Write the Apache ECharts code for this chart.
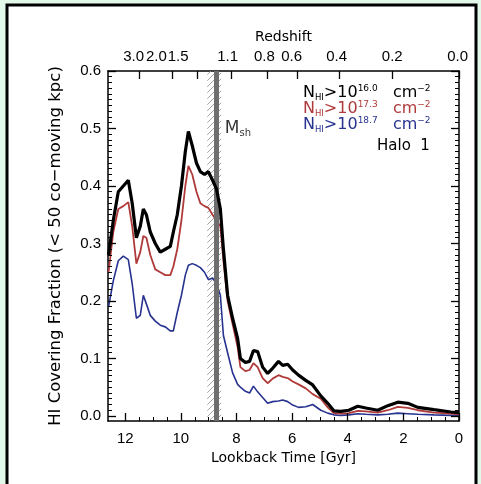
<!DOCTYPE html>
<html><head><meta charset="utf-8">
<script src="https://cdn.jsdelivr.net/npm/echarts@6/dist/echarts.min.js"></script>
<style>html,body{margin:0;padding:0;background:#e2f8e8;}#c{width:481px;height:484px;}</style>
</head><body><div id="c"></div>
<script>
// ---- data ----
const times = [12.6,12.43,12.25,12.07,11.89,11.75,11.60,11.46,11.35,11.24,11.10,10.92,10.74,10.56,10.38,10.27,10.13,9.98,9.84,9.73,9.59,9.44,9.30,9.15,9.01,8.86,8.72,8.58,8.47,8.32,8.14,7.96,7.86,7.68,7.53,7.39,7.24,7.06,6.88,6.70,6.49,6.34,6.16,5.98,5.77,5.51,5.26,4.97,4.72,4.50,4.25,3.96,3.64,3.35,2.92,2.56,2.20,1.84,1.48,0.90,0.29,0.00];
const blackVals = [0.28,0.34,0.39,0.40,0.41,0.37,0.31,0.33,0.36,0.35,0.32,0.30,0.285,0.29,0.295,0.32,0.35,0.40,0.46,0.495,0.47,0.44,0.425,0.42,0.425,0.41,0.395,0.36,0.29,0.21,0.17,0.135,0.10,0.093,0.095,0.114,0.112,0.085,0.074,0.083,0.095,0.088,0.09,0.08,0.071,0.062,0.054,0.035,0.022,0.009,0.008,0.01,0.017,0.014,0.01,0.018,0.024,0.022,0.015,0.011,0.007,0.006];
const redVals = [0.25,0.32,0.36,0.365,0.372,0.33,0.265,0.285,0.313,0.31,0.28,0.255,0.25,0.245,0.245,0.26,0.29,0.34,0.40,0.435,0.42,0.39,0.37,0.365,0.362,0.35,0.34,0.33,0.27,0.20,0.16,0.12,0.085,0.078,0.08,0.092,0.085,0.066,0.057,0.065,0.071,0.068,0.066,0.06,0.055,0.048,0.038,0.03,0.015,0.005,0.004,0.005,0.009,0.008,0.006,0.01,0.016,0.014,0.01,0.006,0.004,0.003];
const blueVals = [0.19,0.235,0.27,0.278,0.272,0.23,0.17,0.175,0.21,0.195,0.175,0.165,0.158,0.155,0.148,0.148,0.18,0.21,0.245,0.262,0.265,0.262,0.258,0.25,0.237,0.24,0.23,0.21,0.14,0.11,0.075,0.055,0.05,0.043,0.04,0.052,0.042,0.032,0.022,0.025,0.026,0.028,0.025,0.019,0.015,0.016,0.02,0.01,0.005,0.002,0.001,0.002,0.004,0.003,0.002,0.003,0.005,0.004,0.003,0.002,0.001,0.001];
const xTickValues = [0,2,4,6,8,10,12];
const yTickValues = [0,0.1,0.2,0.3,0.4,0.5,0.6];
const redshiftLabels = ['3.0','2.0','1.5','1.1','0.8','0.6','0.4','0.2','0.0'];
const redshiftTickTimes = [11.5,10.3,9.4,8.2,6.9,5.8,4.3,2.4,0];
const redshiftLabelTimes = [11.7,10.88,10.1,8.32,7.0,6.02,4.4,2.4,0.05];
const mshLine = 8.72;
const mshBand = [9.05, 8.55];
const seriesNames = ['16.0','17.3','18.7'];

// ---- helpers ----
const FONT = 'DejaVu Sans';
const NUMFONT = 'Liberation Sans';
const xMin = 0, xMax = 12.62, yMin = -0.0087, yMax = 0.6;
const GRID = {left:108, right:22, top:71, bottom:63};
const plotW = 481 - GRID.left - GRID.right, plotH = 484 - GRID.top - GRID.bottom;
const pxX = (xMax - xMin) / plotW, pxY = (yMax - yMin) / plotH;   // data units per pixel
const zip = (a,b) => a.map((v,i)=>[v,b[i]]);
const xMinor = []; for (let i=1;i<25;i++){ if(i%4) xMinor.push(i*0.5); }
const yMinor = []; for (let i=1;i<60;i++){ if(i%10) yMinor.push(+(i*0.01).toFixed(2)); }

const P = 6;
const pc = document.createElement('canvas'); pc.width=P; pc.height=P;
const g = pc.getContext('2d'); g.strokeStyle='#9a9a9a'; g.lineWidth=0.9;
g.beginPath(); g.moveTo(0,P); g.lineTo(P,0); g.stroke();
g.beginPath(); g.moveTo(-1,1); g.lineTo(1,-1); g.stroke();
g.beginPath(); g.moveTo(P-1,P+1); g.lineTo(P+1,P-1); g.stroke();

// tick segments expressed in data coordinates (drawn by markLine through the axes)
const xLeft = xMax * 0.99995;
function tickSegs(len){
  const dy = len * pxY, dx = len * pxX;
  return {
    bottom:(vals)=>vals.map(t=>[{coord:[t, yMin]},{coord:[t, yMin+dy]}]),
    top:(vals)=>vals.map(t=>[{coord:[t, yMax]},{coord:[t, yMax-dy]}]),
    left:(vals)=>vals.map(v=>[{coord:[xLeft, v]},{coord:[xLeft-dx, v]}]),
    right:(vals)=>vals.map(v=>[{coord:[xMin, v]},{coord:[xMin+dx, v]}])
  };
}
const MAJ = tickSegs(8), MIN = tickSegs(4);
const majorTicks = [].concat(MAJ.bottom(xTickValues), MAJ.top(redshiftTickTimes), MAJ.right(yTickValues));
function tickCarrier(data, w){
  return {type:'scatter', xAxisIndex:0, yAxisIndex:0, data:[[xMin, yMin]], symbolSize:0, silent:true, z:8, clip:false,
    markLine:{silent:true, animation:false, symbol:['none','none'], label:{show:false}, emphasis:{disabled:true},
      lineStyle:{color:'#000', width:w, type:'solid', opacity:1}, data:data}};
}

const baseX = {type:'value', min:xMin, max:xMax, inverse:true, splitLine:{show:false}, axisTick:{show:false}};
const baseY = {type:'value', min:yMin, max:yMax, splitLine:{show:false}, axisTick:{show:false}};
const lineAx = () => ({show:true, onZero:false, lineStyle:{color:'#000', width:1.5}});
const labelStyle = () => ({fontSize:15, fontFamily:NUMFONT, color:'#000', showMinLabel:true, showMaxLabel:true});

const chart = echarts.init(document.getElementById('c'), null, {renderer:'canvas'});
function mkRich(){ return {
  n:{fontSize:16, fontFamily:FONT, lineHeight:18},
  sub:{fontSize:8.5, fontFamily:FONT, verticalAlign:'bottom', lineHeight:10},
  sup:{fontSize:9, fontFamily:FONT, verticalAlign:'top', lineHeight:10}
};}
function legendText(exp, color, y){
  return {type:'text', left:303, top:y, z:100, style:{
    text:'{n|N}{sub|HI}{n|>10}{sup|'+exp+'}{n|   cm}{sup|−2}', fill:color, rich:mkRich()}};
}
chart.setOption({
  backgroundColor:'#e2f8e8',
  animation:false,
  graphic:[
    {type:'rect', shape:{x:7,y:5,width:469,height:500}, style:{fill:'#fff', stroke:'#000', lineWidth:3}, z:-10},
    legendText(seriesNames[0], '#000', 84),
    legendText(seriesNames[1], '#b03a3a', 100),
    legendText(seriesNames[2], '#27338f', 116),
    {type:'text', left:377, top:139, z:100, style:{text:'Halo  1', fill:'#000', font:'15px "DejaVu Sans"'}}
  ],
  grid:GRID,
  xAxis:[
    Object.assign({}, baseX, {position:'bottom', axisLine:lineAx(),
      name:'Lookback Time [Gyr]', nameLocation:'middle', nameGap:29,
      nameTextStyle:{fontSize:14, fontFamily:FONT, color:'#000'},
      axisLabel:Object.assign({margin:10, customValues:xTickValues}, labelStyle())}),
    Object.assign({}, baseX, {position:'top', axisLine:lineAx(),
      name:'Redshift', nameLocation:'middle', nameGap:26,
      nameTextStyle:{fontSize:14, fontFamily:FONT, color:'#000'},
      axisLabel:Object.assign({margin:7, customValues:redshiftLabelTimes,
        formatter:(v)=>{ let b=0,d=1e9; redshiftLabelTimes.forEach((t,i)=>{ if(Math.abs(t-v)<d){d=Math.abs(t-v);b=i;} }); return redshiftLabels[b]; }}, labelStyle())})
  ],
  yAxis:[
    Object.assign({}, baseY, {position:'left', axisLine:lineAx(),
      name:'HI Covering Fraction (< 50 co−moving kpc)', nameLocation:'middle', nameGap:44,
      nameTextStyle:{fontSize:16.5, fontFamily:FONT, color:'#000'},
      axisLabel:Object.assign({margin:7, customValues:yTickValues, formatter:(v)=>v.toFixed(1)}, labelStyle())}),
    Object.assign({}, baseY, {position:'right', axisLine:lineAx(), axisLabel:{show:false}})
  ],
  series:[
    {type:'line', xAxisIndex:0, yAxisIndex:0, data:zip(times, blueVals), showSymbol:false, lineStyle:{color:'#27338f', width:1.6}, z:3,
      markArea:{silent:true, itemStyle:{color:{image:pc, repeat:'repeat'}}, data:[[{xAxis:mshBand[0]},{xAxis:mshBand[1]}]]}},
    {type:'line', xAxisIndex:0, yAxisIndex:0, data:zip(times, redVals), showSymbol:false, lineStyle:{color:'#b03a3a', width:1.8}, z:4},
    {type:'line', xAxisIndex:0, yAxisIndex:0, data:zip(times, blackVals), showSymbol:false, lineStyle:{color:'#000', width:3.2}, z:5,
      markLine:{silent:true, symbol:['none','none'], label:{show:false}, lineStyle:{color:'#6e6e6e', width:5, type:'solid'}, data:[{xAxis:mshLine}]}},
    {type:'scatter', xAxisIndex:0, yAxisIndex:0, data:[[8.42, 0.50]], symbolSize:0, z:6, silent:true,
      label:{show:true, position:'inside', align:'left', verticalAlign:'middle', color:'#000',
        formatter:'{m|M}{s|sh}', rich:{m:{fontSize:17, fontFamily:FONT, lineHeight:20}, s:{fontSize:10, fontFamily:FONT, verticalAlign:'bottom', lineHeight:10}}}},
    tickCarrier(majorTicks, 1.3),
    tickCarrier(MAJ.left(yTickValues), 1.3),
    tickCarrier(MIN.bottom(xMinor), 1),
    tickCarrier(MIN.left(yMinor), 1),
    tickCarrier(MIN.right(yMinor), 1)
  ]
});
</script></body></html>
